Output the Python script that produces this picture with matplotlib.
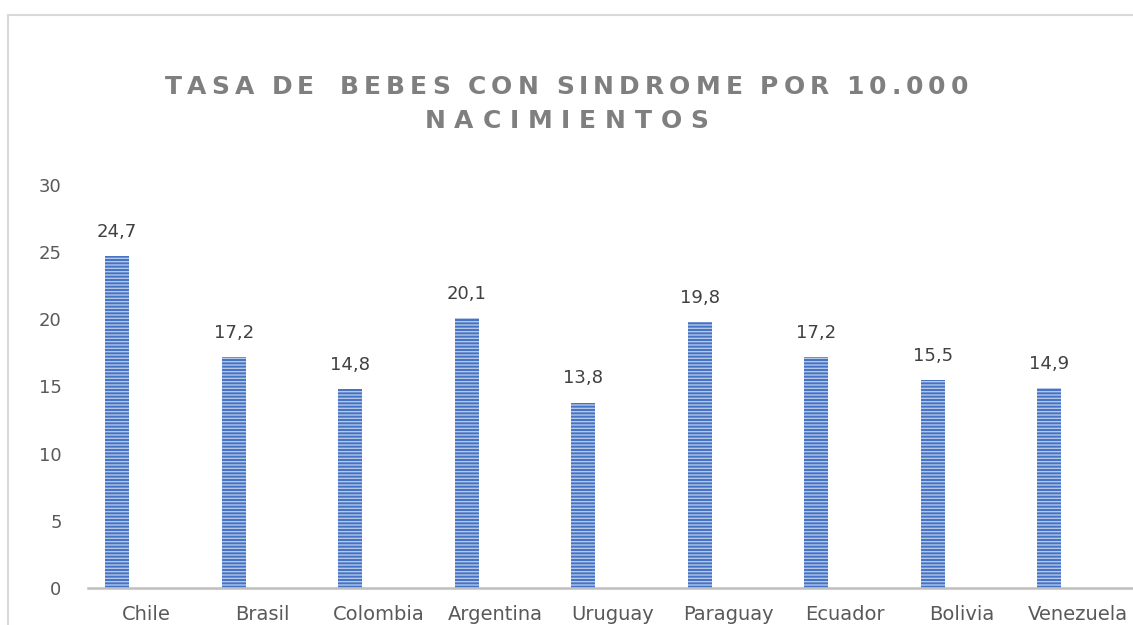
import matplotlib
matplotlib.use("Agg")
import matplotlib.pyplot as plt
from matplotlib.patches import Rectangle
from matplotlib.textpath import TextToPath
from matplotlib.font_manager import FontProperties
import numpy as np

paises = ["Chile", "Brasil", "Colombia", "Argentina", "Uruguay", "Paraguay", "Ecuador", "Bolivia", "Venezuela"]
tasas = [24.7, 17.2, 14.8, 20.1, 13.8, 19.8, 17.2, 15.5, 14.9]
etiquetas = ["24,7", "17,2", "14,8", "20,1", "13,8", "19,8", "17,2", "15,5", "14,9"]
titulo = ["TASA DE  BEBES CON SINDROME POR 10.000", "NACIMIENTOS"]
yticks = [0, 5, 10, 15, 20, 25, 30]

W, H = 1133, 625
plt.rcParams['hatch.linewidth'] = 1.0
fig = plt.figure(figsize=(W / 100, H / 100), dpi=100)

# chart border (partially cropped)
fig.patches.append(Rectangle((8 / W, -0.1), 1.2, 1 - 15 / H + 0.1, transform=fig.transFigure,
                             fill=False, edgecolor="#d9d9d9", linewidth=1.5))

slot = 116.5
ax_left, ax_bottom, ax_top = 88, 588, 185
ax = fig.add_axes([ax_left / W, 1 - ax_bottom / H, 9 * slot / W, (ax_bottom - ax_top) / H])
x = np.arange(len(paises))
bars = ax.bar(x - 0.25, tasas, width=0.205, color="#4472c4", edgecolor="#b4c7e7",
              linewidth=0, hatch="-----")
ax.set_xlim(-0.5, len(paises) - 0.5)
ax.set_ylim(0, 30)
ax.set_yticks(yticks)
ax.set_yticklabels([str(v) for v in yticks])
ax.set_xticks(x)
ax.set_xticklabels(paises)
ax.tick_params(axis="y", length=0, pad=19, labelsize=13, labelcolor="#595959")
ax.tick_params(axis="x", length=0, pad=12, labelsize=14, labelcolor="#595959")
for s in ["top", "right", "left"]:
    ax.spines[s].set_visible(False)
ax.spines["bottom"].set_color("#bfbfbf")
ax.spines["bottom"].set_linewidth(1.8)
for xi, v, lab in zip(x, tasas, etiquetas):
    ax.annotate(lab, (xi - 0.25, v), xytext=(0, 11), textcoords="offset points",
                ha="center", va="bottom", fontsize=13, color="#404040")

# letter-spaced title
prop = FontProperties(family="DejaVu Sans", weight="bold", size=18)
t2p = TextToPath()

def spaced(line, yc, target_px):
    widths = []
    gaps = []
    prev = ""
    for ch in line:
        if ch == " ":
            w = 0.3 * prop.get_size_in_points() * 100 / 72
            if prev == " ":
                w = 8
        else:
            w, h, d = t2p.get_text_width_height_descent(ch, prop, ismath=False)
            w = w * 100 / 72
        widths.append(w)
        gaps.append(0 if prev == " " and ch == " " else 1)
        prev = ch
    n_gaps = sum(gaps[1:])
    gap = (target_px - sum(widths)) / n_gaps
    xpos = W / 2 - target_px / 2
    for i, (ch, w) in enumerate(zip(line, widths)):
        if i > 0 and gaps[i]:
            xpos += gap
        if ch != " ":
            fig.text(xpos / W, 1 - yc / H, ch, fontproperties=prop, color="#7f7f7f",
                     ha="left", va="center")
        xpos += w

spaced(titulo[0], 87, 803)
spaced(titulo[1], 121, 284)

fig.savefig("out.png", dpi=100)
